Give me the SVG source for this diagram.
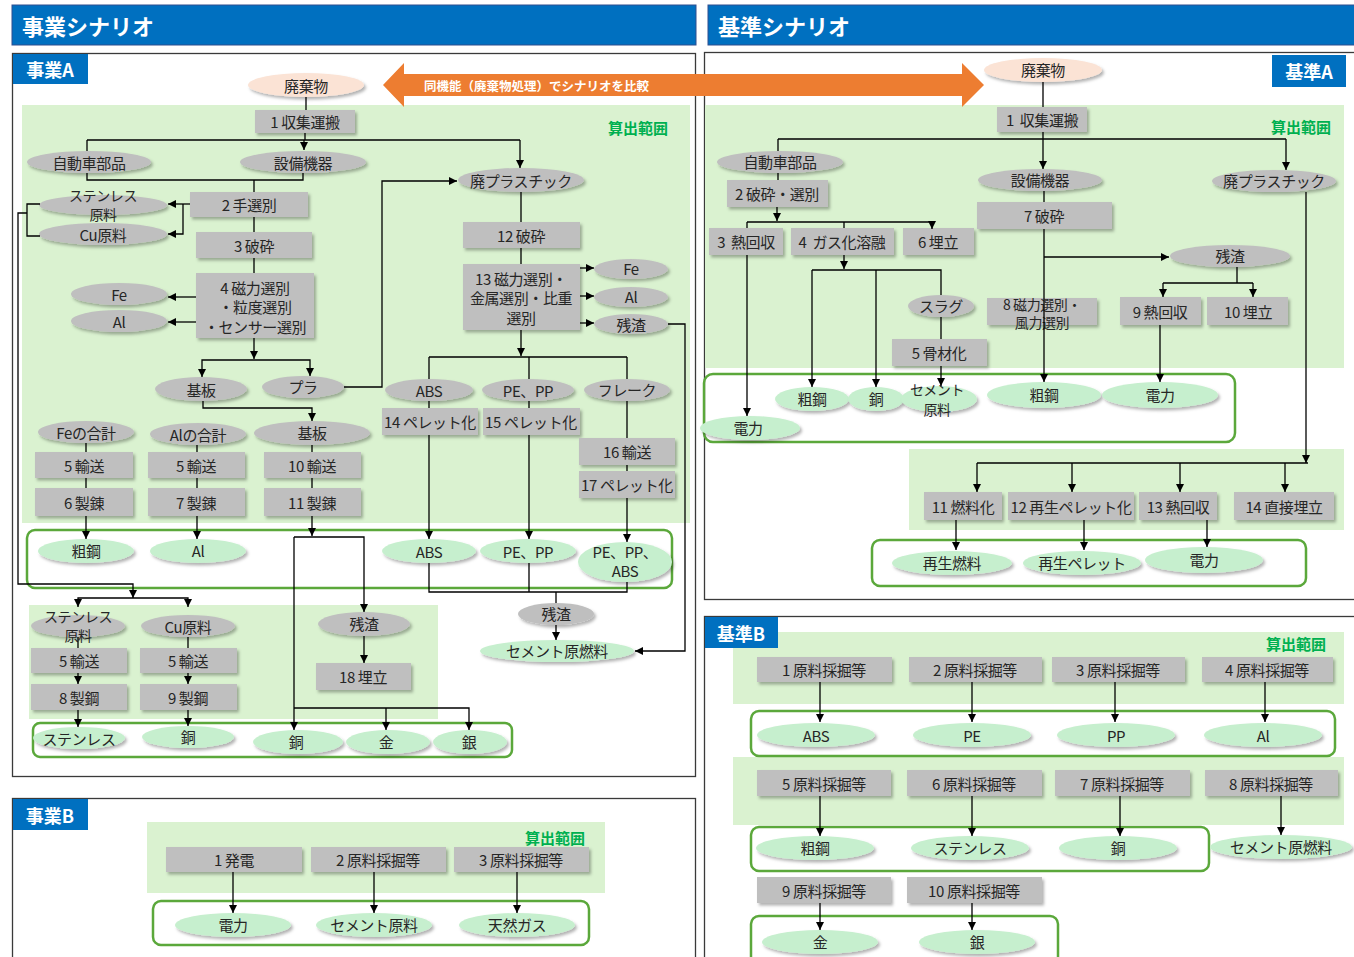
<svg xmlns="http://www.w3.org/2000/svg" width="1354" height="957" viewBox="0 0 1354 957">
<defs>
<filter id="sh" x="-20%" y="-40%" width="150%" height="200%"><feDropShadow dx="2" dy="2.5" stdDeviation="1.5" flood-color="#000" flood-opacity="0.3"/></filter>
<marker id="ah" viewBox="0 0 10 10" refX="10" refY="5" markerWidth="8" markerHeight="8" markerUnits="userSpaceOnUse" orient="auto"><path d="M0,0 L10,5 L0,10 z" fill="#000"/></marker>
<style>
.bx{fill:#BFBFBF;filter:url(#sh)}
.eg{fill:#BFBFBF;filter:url(#sh)}
.eo{fill:#C6EFCE;filter:url(#sh)}
.ep{fill:#FBE3D5;filter:url(#sh)}
.t{font-family:'Noto Sans CJK JP','Liberation Sans',sans-serif;font-size:15px;fill:#262626;text-anchor:middle;dominant-baseline:central;letter-spacing:-0.4px;white-space:pre}
.s{font-size:14px}
.out{fill:none;stroke:#5BA83B;stroke-width:2.5}
.area{fill:#DAF2D0}
.panel{fill:#fff;stroke:#3A3A3A;stroke-width:1.3}
.c{fill:none;stroke:#000;stroke-width:1.3}
.a{marker-end:url(#ah)}
.hd{font-family:'Noto Sans CJK JP','Liberation Sans',sans-serif;font-weight:bold;fill:#fff;font-size:22px;dominant-baseline:central}
.lb{font-family:'Noto Sans CJK JP','Liberation Sans',sans-serif;font-weight:bold;fill:#fff;font-size:18px;text-anchor:middle;dominant-baseline:central}
.sc{font-family:'Noto Sans CJK JP','Liberation Sans',sans-serif;font-weight:bold;fill:#00B050;font-size:15px;text-anchor:middle;dominant-baseline:central}
.blue{fill:#0070C0}
</style>
</defs>
<rect width="1354" height="957" fill="#fff"/>

<!-- headers -->
<g id="header-business">
<rect x="12" y="5" width="684" height="40" class="blue" stroke="#2F4F8F" stroke-width="1"/>
<text x="22" y="25" class="hd">事業シナリオ</text>
</g>
<g id="header-baseline">
<rect x="708" y="5" width="652" height="40" class="blue" stroke="#2F4F8F" stroke-width="1"/>
<text x="718" y="25" class="hd">基準シナリオ</text>
</g>

<!-- panels -->
<rect x="12.5" y="53.5" width="683" height="723" class="panel"/>
<rect x="12.5" y="798.5" width="683" height="170" class="panel"/>
<rect x="704.5" y="52.5" width="660" height="547" class="panel"/>
<rect x="704.5" y="616.5" width="660" height="350" class="panel"/>

<!-- calculation areas -->
<rect x="22" y="105" width="668" height="418" class="area"/>
<rect x="29" y="605" width="409" height="114" class="area"/>
<rect x="147" y="822" width="458" height="71" class="area"/>
<rect x="705" y="105" width="639" height="263" class="area"/>
<rect x="909" y="449" width="435" height="81" class="area"/>
<rect x="733" y="632" width="611" height="72" class="area"/>
<rect x="733" y="757" width="611" height="68" class="area"/>
<text x="638" y="127" class="sc">算出範囲</text>
<text x="1301" y="126" class="sc">算出範囲</text>
<text x="555" y="837" class="sc">算出範囲</text>
<text x="1296" y="643" class="sc">算出範囲</text>

<!-- panel labels -->
<g id="label-a"><rect x="13" y="54" width="75" height="30" class="blue"/><text x="50" y="69" class="lb">事業A</text></g>
<g id="label-b"><rect x="13" y="799" width="75" height="31" class="blue"/><text x="50" y="815" class="lb">事業B</text></g>
<g id="label-ka"><rect x="1272" y="55" width="74" height="32" class="blue"/><text x="1309" y="71" class="lb">基準A</text></g>
<g id="label-kb"><rect x="705" y="617" width="73" height="31" class="blue"/><text x="741" y="633" class="lb">基準B</text></g>

<!-- output frames -->
<rect x="27" y="530" width="645" height="58" rx="8" class="out"/>
<rect x="33" y="723" width="479" height="34" rx="7" class="out"/>
<rect x="153" y="901" width="436" height="44" rx="8" class="out"/>
<rect x="704" y="374" width="531" height="68" rx="9" class="out"/>
<rect x="872" y="540" width="434" height="46" rx="8" class="out"/>
<rect x="751" y="711" width="584" height="45" rx="8" class="out"/>
<rect x="751" y="827" width="458" height="44" rx="8" class="out"/>
<rect x="751" y="916" width="307" height="50" rx="8" class="out"/>

<!-- ===== 事業A nodes ===== -->
<g id="a-haikibutsu"><ellipse cx="306" cy="85" rx="58" ry="12" class="ep"/><text x="306" y="85" class="t">廃棄物</text></g>
<g id="a-p1"><rect x="255" y="110" width="100" height="23" class="bx"/><text x="305" y="121.5" class="t">1 収集運搬</text></g>
<g id="a-jidosha"><ellipse cx="89" cy="162" rx="62" ry="11" class="eg"/><text x="89" y="162" class="t">自動車部品</text></g>
<g id="a-setsubi"><ellipse cx="303" cy="162" rx="63" ry="11" class="eg"/><text x="303" y="162" class="t">設備機器</text></g>
<g id="a-haipura"><ellipse cx="521" cy="180" rx="63" ry="12" class="eg"/><text x="521" y="180" class="t">廃プラスチック</text></g>
<g id="a-p2"><rect x="190" y="192" width="118" height="25" class="bx"/><text x="249" y="204.5" class="t">2 手選別</text></g>
<g id="a-sus1"><ellipse cx="103" cy="205" rx="64" ry="10" class="eg"/><text x="103" y="195" class="t s">ステンレス</text><text x="103" y="214" class="t s">原料</text></g>
<g id="a-cu1"><ellipse cx="103" cy="234" rx="64" ry="11" class="eg"/><text x="103" y="234" class="t">Cu原料</text></g>
<g id="a-p3"><rect x="196" y="232" width="116" height="26" class="bx"/><text x="254" y="245" class="t">3 破砕</text></g>
<g id="a-p4"><rect x="196" y="273" width="118" height="65" class="bx"/><text x="255" y="287" class="t">4 磁力選別</text><text x="255" y="306" class="t">・粒度選別</text><text x="255" y="326" class="t">・センサー選別</text></g>
<g id="a-fe1"><ellipse cx="119" cy="294" rx="48" ry="11" class="eg"/><text x="119" y="294" class="t">Fe</text></g>
<g id="a-al1"><ellipse cx="119" cy="321" rx="48" ry="11" class="eg"/><text x="119" y="321" class="t">Al</text></g>
<g id="a-kiban1"><ellipse cx="201" cy="389" rx="46" ry="12" class="eg"/><text x="201" y="389" class="t">基板</text></g>
<g id="a-pura"><ellipse cx="303" cy="387" rx="41" ry="11" class="eg"/><text x="303" y="386" class="t">プラ</text></g>
<g id="a-p12"><rect x="463" y="222" width="117" height="26" class="bx"/><text x="521" y="235" class="t">12 破砕</text></g>
<g id="a-p13"><rect x="463" y="264" width="117" height="66" class="bx"/><text x="521" y="278" class="t">13 磁力選別・</text><text x="521" y="297" class="t">金属選別・比重</text><text x="521" y="317" class="t">選別</text></g>
<g id="a-fe2"><ellipse cx="631" cy="269" rx="37" ry="10" class="eg"/><text x="631" y="268" class="t">Fe</text></g>
<g id="a-al2"><ellipse cx="631" cy="297" rx="37" ry="10" class="eg"/><text x="631" y="296" class="t">Al</text></g>
<g id="a-zan1"><ellipse cx="631" cy="324" rx="37" ry="10" class="eg"/><text x="631" y="324" class="t">残渣</text></g>
<g id="a-abs"><ellipse cx="429" cy="390" rx="44" ry="11" class="eg"/><text x="429" y="390" class="t">ABS</text></g>
<g id="a-pepp"><ellipse cx="528" cy="390" rx="46" ry="11" class="eg"/><text x="528" y="390" class="t">PE、PP</text></g>
<g id="a-flake"><ellipse cx="627" cy="390" rx="43" ry="11" class="eg"/><text x="627" y="389" class="t">フレーク</text></g>
<g id="a-p14"><rect x="382" y="408" width="96" height="27" class="bx"/><text x="430" y="421.5" class="t">14 ペレット化</text></g>
<g id="a-p15"><rect x="483" y="408" width="97" height="27" class="bx"/><text x="531" y="421.5" class="t">15 ペレット化</text></g>
<g id="a-p16"><rect x="579" y="438" width="96" height="27" class="bx"/><text x="627" y="451.5" class="t">16 輸送</text></g>
<g id="a-p17"><rect x="579" y="471" width="96" height="27" class="bx"/><text x="627" y="484.5" class="t">17 ペレット化</text></g>
<g id="a-fesum"><ellipse cx="86" cy="432" rx="48" ry="11" class="eg"/><text x="86" y="432" class="t">Feの合計</text></g>
<g id="a-alsum"><ellipse cx="198" cy="434" rx="48" ry="11" class="eg"/><text x="198" y="434" class="t">Alの合計</text></g>
<g id="a-kiban2"><ellipse cx="312" cy="433" rx="58" ry="12" class="eg"/><text x="312" y="432" class="t">基板</text></g>
<g id="a-p5a"><rect x="35" y="452" width="98" height="26" class="bx"/><text x="84" y="465" class="t">5 輸送</text></g>
<g id="a-p6"><rect x="35" y="488" width="98" height="28" class="bx"/><text x="84" y="502" class="t">6 製錬</text></g>
<g id="a-p5b"><rect x="148" y="452" width="97" height="26" class="bx"/><text x="196" y="465" class="t">5 輸送</text></g>
<g id="a-p7"><rect x="148" y="488" width="97" height="28" class="bx"/><text x="196" y="502" class="t">7 製錬</text></g>
<g id="a-p10"><rect x="264" y="452" width="97" height="26" class="bx"/><text x="312" y="465" class="t">10 輸送</text></g>
<g id="a-p11"><rect x="264" y="488" width="97" height="28" class="bx"/><text x="312" y="502" class="t">11 製錬</text></g>
<g id="a-o-sokou"><ellipse cx="86" cy="551" rx="48" ry="12" class="eo"/><text x="86" y="550" class="t">粗鋼</text></g>
<g id="a-o-al"><ellipse cx="198" cy="551" rx="48" ry="12" class="eo"/><text x="198" y="550" class="t">Al</text></g>
<g id="a-o-abs"><ellipse cx="429" cy="551" rx="47" ry="12" class="eo"/><text x="429" y="551" class="t">ABS</text></g>
<g id="a-o-pepp"><ellipse cx="528" cy="551" rx="48" ry="12" class="eo"/><text x="528" y="551" class="t">PE、PP</text></g>
<g id="a-o-ppabs"><ellipse cx="625" cy="562" rx="47" ry="20" class="eo"/><text x="625" y="551" class="t">PE、PP、</text><text x="625" y="570" class="t">ABS</text></g>
<g id="a-zan2"><ellipse cx="556" cy="614" rx="38" ry="11" class="eg"/><text x="556" y="613" class="t">残渣</text></g>
<g id="a-cement"><ellipse cx="557" cy="651" rx="77" ry="11" class="eo"/><text x="557" y="650" class="t">セメント原燃料</text></g>
<g id="a-sus2"><ellipse cx="78" cy="626" rx="47" ry="11" class="eg"/><text x="78" y="616" class="t s">ステンレス</text><text x="78" y="635" class="t s">原料</text></g>
<g id="a-cu2"><ellipse cx="188" cy="626" rx="47" ry="11" class="eg"/><text x="188" y="626" class="t">Cu原料</text></g>
<g id="a-p5c"><rect x="31" y="648" width="96" height="25" class="bx"/><text x="79" y="660.5" class="t">5 輸送</text></g>
<g id="a-p8"><rect x="31" y="684" width="96" height="26" class="bx"/><text x="79" y="697" class="t">8 製鋼</text></g>
<g id="a-p5d"><rect x="140" y="648" width="97" height="25" class="bx"/><text x="188" y="660.5" class="t">5 輸送</text></g>
<g id="a-p9"><rect x="140" y="684" width="97" height="26" class="bx"/><text x="188" y="697" class="t">9 製鋼</text></g>
<g id="a-zan3"><ellipse cx="364" cy="624" rx="46" ry="12" class="eg"/><text x="364" y="623" class="t">残渣</text></g>
<g id="a-p18"><rect x="316" y="663" width="95" height="27" class="bx"/><text x="363" y="676.5" class="t">18 埋立</text></g>
<g id="a-o-sus"><ellipse cx="79" cy="738" rx="46" ry="11" class="eo"/><text x="79" y="738" class="t">ステンレス</text></g>
<g id="a-o-cu1"><ellipse cx="188" cy="737" rx="46" ry="11" class="eo"/><text x="188" y="736" class="t">銅</text></g>
<g id="a-o-cu2"><ellipse cx="298" cy="742" rx="45" ry="12" class="eo"/><text x="296" y="741" class="t">銅</text></g>
<g id="a-o-gold"><ellipse cx="388" cy="742" rx="42" ry="12" class="eo"/><text x="386" y="741" class="t">金</text></g>
<g id="a-o-silver"><ellipse cx="470" cy="742" rx="37" ry="12" class="eo"/><text x="469" y="741" class="t">銀</text></g>

<!-- ===== 事業B nodes ===== -->
<g id="b-p1"><rect x="166" y="847" width="136" height="25" class="bx"/><text x="234" y="859.5" class="t">1 発電</text></g>
<g id="b-p2"><rect x="311" y="847" width="135" height="25" class="bx"/><text x="378" y="859.5" class="t">2 原料採掘等</text></g>
<g id="b-p3"><rect x="454" y="847" width="135" height="25" class="bx"/><text x="521" y="859.5" class="t">3 原料採掘等</text></g>
<g id="b-o-power"><ellipse cx="233" cy="925" rx="58" ry="12" class="eo"/><text x="233" y="924" class="t">電力</text></g>
<g id="b-o-cement"><ellipse cx="374" cy="925" rx="58" ry="12" class="eo"/><text x="374" y="924" class="t">セメント原料</text></g>
<g id="b-o-gas"><ellipse cx="517" cy="925" rx="58" ry="12" class="eo"/><text x="517" y="924" class="t">天然ガス</text></g>

<!-- ===== 基準A nodes ===== -->
<g id="ka-haikibutsu"><ellipse cx="1043" cy="70" rx="59" ry="12" class="ep"/><text x="1043" y="69" class="t">廃棄物</text></g>
<g id="ka-p1"><rect x="997" y="107" width="90" height="25" class="bx"/><text x="1042" y="119.5" class="t">1  収集運搬</text></g>
<g id="ka-jidosha"><ellipse cx="780" cy="162" rx="63" ry="11" class="eg"/><text x="780" y="161" class="t">自動車部品</text></g>
<g id="ka-setsubi"><ellipse cx="1040" cy="180" rx="62" ry="11" class="eg"/><text x="1040" y="179" class="t">設備機器</text></g>
<g id="ka-haipura"><ellipse cx="1274" cy="181" rx="62" ry="11" class="eg"/><text x="1274" y="180" class="t">廃プラスチック</text></g>
<g id="ka-p2"><rect x="727" y="180" width="101" height="27" class="bx"/><text x="777" y="193.5" class="t">2 破砕・選別</text></g>
<g id="ka-p3"><rect x="709" y="228" width="74" height="27" class="bx"/><text x="746" y="241.5" class="t">3  熱回収</text></g>
<g id="ka-p4"><rect x="791" y="228" width="103" height="27" class="bx"/><text x="842" y="241.5" class="t">4  ガス化溶融</text></g>
<g id="ka-p6"><rect x="903" y="228" width="71" height="27" class="bx"/><text x="938" y="241.5" class="t">6 埋立</text></g>
<g id="ka-p7"><rect x="977" y="202" width="135" height="27" class="bx"/><text x="1044" y="215.5" class="t">7 破砕</text></g>
<g id="ka-zan"><ellipse cx="1230" cy="256" rx="60" ry="11" class="eg"/><text x="1230" y="255" class="t">残渣</text></g>
<g id="ka-slag"><ellipse cx="941" cy="306" rx="33" ry="11" class="eg"/><text x="941" y="305" class="t">スラグ</text></g>
<g id="ka-p8"><rect x="987" y="298" width="110" height="27" class="bx"/><text x="1042" y="304" class="t s">8 磁力選別・</text><text x="1042" y="322" class="t s">風力選別</text></g>
<g id="ka-p9"><rect x="1120" y="297" width="81" height="28" class="bx"/><text x="1160" y="311" class="t">9 熱回収</text></g>
<g id="ka-p10"><rect x="1207" y="297" width="81" height="28" class="bx"/><text x="1248" y="311" class="t">10 埋立</text></g>
<g id="ka-p5"><rect x="892" y="339" width="95" height="27" class="bx"/><text x="939" y="352.5" class="t">5 骨材化</text></g>
<g id="ka-o-sokou1"><ellipse cx="812" cy="399" rx="37" ry="12" class="eo"/><text x="812" y="398" class="t">粗鋼</text></g>
<g id="ka-o-cu"><ellipse cx="876" cy="399" rx="28" ry="12" class="eo"/><text x="876" y="398" class="t">銅</text></g>
<g id="ka-o-cement"><ellipse cx="939" cy="399" rx="38" ry="13" class="eo"/><text x="937" y="389" class="t s">セメント</text><text x="937" y="409" class="t s">原料</text></g>
<g id="ka-o-sokou2"><ellipse cx="1044" cy="395" rx="57" ry="13" class="eo"/><text x="1044" y="394" class="t">粗鋼</text></g>
<g id="ka-o-power2"><ellipse cx="1160" cy="395" rx="58" ry="13" class="eo"/><text x="1160" y="394" class="t">電力</text></g>
<g id="ka-o-power1"><ellipse cx="750" cy="428" rx="50" ry="12" class="eo"/><text x="748" y="427" class="t">電力</text></g>
<g id="ka-p11"><rect x="924" y="492" width="78" height="28" class="bx"/><text x="963" y="506" class="t">11 燃料化</text></g>
<g id="ka-p12"><rect x="1008" y="492" width="126" height="28" class="bx"/><text x="1071" y="506" class="t">12 再生ペレット化</text></g>
<g id="ka-p13"><rect x="1139" y="492" width="78" height="28" class="bx"/><text x="1178" y="506" class="t">13 熱回収</text></g>
<g id="ka-p14"><rect x="1234" y="492" width="100" height="28" class="bx"/><text x="1284" y="506" class="t">14 直接埋立</text></g>
<g id="ka-o-fuel"><ellipse cx="952" cy="563" rx="60" ry="12" class="eo"/><text x="952" y="562" class="t">再生燃料</text></g>
<g id="ka-o-pellet"><ellipse cx="1082" cy="563" rx="59" ry="12" class="eo"/><text x="1082" y="562" class="t">再生ペレット</text></g>
<g id="ka-o-power3"><ellipse cx="1204" cy="560" rx="59" ry="13" class="eo"/><text x="1204" y="559" class="t">電力</text></g>

<!-- ===== 基準B nodes ===== -->
<g id="kb-p1"><rect x="757" y="657" width="135" height="25" class="bx"/><text x="824" y="669.5" class="t">1 原料採掘等</text></g>
<g id="kb-p2"><rect x="909" y="657" width="133" height="25" class="bx"/><text x="975" y="669.5" class="t">2 原料採掘等</text></g>
<g id="kb-p3"><rect x="1052" y="657" width="133" height="25" class="bx"/><text x="1118" y="669.5" class="t">3 原料採掘等</text></g>
<g id="kb-p4"><rect x="1202" y="657" width="131" height="25" class="bx"/><text x="1267" y="669.5" class="t">4 原料採掘等</text></g>
<g id="kb-o-abs"><ellipse cx="816" cy="735" rx="59" ry="12" class="eo"/><text x="816" y="735" class="t">ABS</text></g>
<g id="kb-o-pe"><ellipse cx="972" cy="735" rx="59" ry="12" class="eo"/><text x="972" y="735" class="t">PE</text></g>
<g id="kb-o-pp"><ellipse cx="1116" cy="735" rx="59" ry="12" class="eo"/><text x="1116" y="735" class="t">PP</text></g>
<g id="kb-o-al"><ellipse cx="1263" cy="735" rx="59" ry="12" class="eo"/><text x="1263" y="735" class="t">Al</text></g>
<g id="kb-p5"><rect x="757" y="770" width="134" height="26" class="bx"/><text x="824" y="783" class="t">5 原料採掘等</text></g>
<g id="kb-p6"><rect x="907" y="770" width="135" height="26" class="bx"/><text x="974" y="783" class="t">6 原料採掘等</text></g>
<g id="kb-p7"><rect x="1055" y="770" width="135" height="26" class="bx"/><text x="1122" y="783" class="t">7 原料採掘等</text></g>
<g id="kb-p8"><rect x="1205" y="770" width="133" height="26" class="bx"/><text x="1271" y="783" class="t">8 原料採掘等</text></g>
<g id="kb-o-sokou"><ellipse cx="815" cy="848" rx="59" ry="12" class="eo"/><text x="815" y="847" class="t">粗鋼</text></g>
<g id="kb-o-sus"><ellipse cx="970" cy="848" rx="59" ry="12" class="eo"/><text x="970" y="847" class="t">ステンレス</text></g>
<g id="kb-o-cu"><ellipse cx="1118" cy="848" rx="59" ry="12" class="eo"/><text x="1118" y="847" class="t">銅</text></g>
<g id="kb-o-cement"><ellipse cx="1281" cy="847" rx="71" ry="12" class="eo"/><text x="1281" y="846" class="t">セメント原燃料</text></g>
<g id="kb-p9"><rect x="757" y="877" width="134" height="26" class="bx"/><text x="824" y="890" class="t">9 原料採掘等</text></g>
<g id="kb-p10"><rect x="907" y="877" width="135" height="26" class="bx"/><text x="974" y="890" class="t">10 原料採掘等</text></g>
<g id="kb-o-gold"><ellipse cx="820" cy="942" rx="58" ry="12" class="eo"/><text x="820" y="941" class="t">金</text></g>
<g id="kb-o-silver"><ellipse cx="977" cy="942" rx="58" ry="12" class="eo"/><text x="977" y="941" class="t">銀</text></g>

<!-- ===== connectors ===== -->
<g id="connectors">
<!-- 事業A -->
<path class="c" d="M306,97 V110"/>
<path class="c" d="M305,133 V140 M87,140 H520 M87,140 V151"/>
<path class="c a" d="M304,140 V150"/>
<path class="c a" d="M520,140 V168"/>
<path class="c" d="M87,173 V180 H303 V173 M254,180 V192"/>
<path class="c" d="M254,217 V232 M254,258 V273"/>
<path class="c a" d="M190,204 H168"/>
<path class="c a" d="M183,204 V234 H168"/>
<path class="c" d="M40,204 H27 V236 H40"/>
<path class="c a" d="M27,213 H18 V584 H133 V598"/>
<path class="c a" d="M133,598 H78 V607"/>
<path class="c a" d="M133,598 H188 V607"/>
<path class="c a" d="M196,297 H168"/>
<path class="c a" d="M196,322 H168"/>
<path class="c a" d="M254,338 V359"/>
<path class="c a" d="M254,360 H202 V377"/>
<path class="c a" d="M254,360 H310 V376"/>
<path class="c a" d="M344,387 H382 V181 H457"/>
<path class="c a" d="M203,401 V408 H312 V421"/>
<path class="c" d="M521,192 V222 M521,248 V264"/>
<path class="c a" d="M580,268 H594"/>
<path class="c a" d="M580,296 H594"/>
<path class="c a" d="M580,323 H594"/>
<path class="c a" d="M668,324 H685 V651 H635"/>
<path class="c a" d="M521,330 V356"/>
<path class="c" d="M429,357 H627 M429,357 V379 M529,357 V379 M627,357 V379"/>
<path class="c" d="M429,401 V408 M529,401 V408 M627,401 V438 M627,465 V471"/>
<path class="c a" d="M429,435 V539"/>
<path class="c a" d="M529,435 V539"/>
<path class="c a" d="M627,498 V542"/>
<path class="c" d="M86,443 V452 M86,478 V488 M197,445 V452 M197,478 V488 M312,445 V452 M312,478 V488"/>
<path class="c a" d="M86,516 V539"/>
<path class="c a" d="M197,516 V539"/>
<path class="c a" d="M312,516 V536"/>
<path class="c a" d="M294,537 H364 V612"/>
<path class="c a" d="M294,537 V730"/>
<path class="c a" d="M294,708 H469 V730"/>
<path class="c a" d="M386,708 V730"/>
<path class="c a" d="M364,636 V663"/>
<path class="c" d="M78,637 V648 M188,637 V648"/>
<path class="c a" d="M78,673 V684"/>
<path class="c a" d="M188,673 V684"/>
<path class="c a" d="M78,710 V727"/>
<path class="c a" d="M188,710 V726"/>
<path class="c" d="M429,563 V592 H627 V582 M529,563 V592 M556,592 V603"/>
<path class="c a" d="M556,625 V640"/>
<!-- 事業B -->
<path class="c a" d="M233,872 V913"/>
<path class="c a" d="M374,872 V913"/>
<path class="c a" d="M517,872 V913"/>
<!-- 基準A -->
<path class="c" d="M1043,82 V107 M1043,132 V139 M778,139 H1286 M778,139 V151 M778,173 V180"/>
<path class="c a" d="M1043,139 V169"/>
<path class="c a" d="M1286,139 V170"/>
<path class="c a" d="M777,207 V221"/>
<path class="c" d="M747,222 H932 M747,222 V228 M844,222 V228"/>
<path class="c a" d="M932,222 V229"/>
<path class="c a" d="M747,255 V416"/>
<path class="c a" d="M844,255 V269"/>
<path class="c" d="M812,270 H941 V295 M941,317 V339"/>
<path class="c a" d="M812,270 V387"/>
<path class="c a" d="M876,270 V387"/>
<path class="c a" d="M941,366 V386"/>
<path class="c" d="M1044,191 V202"/>
<path class="c a" d="M1044,229 V382"/>
<path class="c a" d="M1044,257 H1169"/>
<path class="c" d="M1237,267 V283 M1163,283 H1253"/>
<path class="c a" d="M1163,283 V297"/>
<path class="c a" d="M1253,283 V297"/>
<path class="c a" d="M1160,325 V382"/>
<path class="c a" d="M1306,192 V463"/>
<path class="c" d="M977,463 H1308"/>
<path class="c a" d="M977,463 V492"/>
<path class="c a" d="M1072,463 V492"/>
<path class="c a" d="M1180,463 V492"/>
<path class="c a" d="M1285,463 V492"/>
<path class="c a" d="M956,520 V550"/>
<path class="c a" d="M1084,520 V550"/>
<path class="c a" d="M1207,520 V547"/>
<!-- 基準B -->
<path class="c a" d="M820,682 V722"/>
<path class="c a" d="M972,682 V722"/>
<path class="c a" d="M1115,682 V722"/>
<path class="c a" d="M1265,682 V722"/>
<path class="c a" d="M820,796 V836"/>
<path class="c a" d="M972,796 V836"/>
<path class="c a" d="M1120,796 V836"/>
<path class="c a" d="M1281,796 V835"/>
<path class="c a" d="M820,903 V930"/>
<path class="c a" d="M972,903 V930"/>
</g>

<!-- comparison arrow -->
<g id="compare-arrow">
<polygon points="383,85 404,63 404,74 962,74 962,63 984,85 962,107 962,96 404,96 404,107" fill="#ED7D31"/>
<text x="424" y="85" font-family="'Noto Sans CJK JP','Liberation Sans',sans-serif" font-size="12.5" font-weight="bold" fill="#fff" dominant-baseline="central">同機能（廃棄物処理）でシナリオを比較</text>
</g>
</svg>
